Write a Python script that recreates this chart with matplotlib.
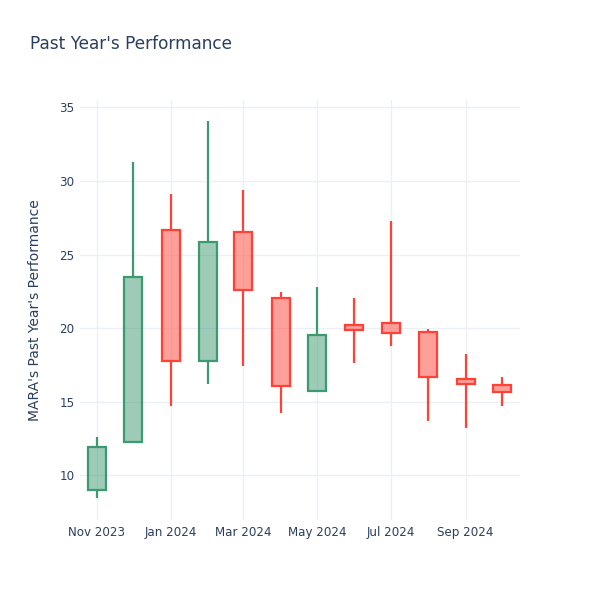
import datetime as dt
import matplotlib
matplotlib.use('Agg')
import matplotlib.pyplot as plt
import matplotlib.dates as mdates

# monthly candles for MARA
months = ['2023-11-01', '2023-12-01', '2024-01-01', '2024-02-01', '2024-03-01', '2024-04-01',
          '2024-05-01', '2024-06-01', '2024-07-01', '2024-08-01', '2024-09-01', '2024-10-01']
opens = [9.02, 12.24, 26.64, 17.79, 26.53, 22.02, 15.75, 20.21, 20.35, 19.76, 16.52, 16.13]
highs = [12.62, 31.26, 29.13, 34.05, 29.36, 22.45, 22.81, 22.02, 27.26, 19.96, 18.22, 16.70]
lows = [8.44, 12.24, 14.71, 16.18, 17.45, 14.21, 15.66, 17.61, 18.80, 13.69, 13.19, 14.71]
closes = [11.94, 23.45, 17.79, 25.87, 22.59, 16.07, 19.51, 19.87, 19.69, 16.70, 16.20, 15.66]

tick_dates = ['2023-11-01', '2024-01-01', '2024-03-01', '2024-05-01', '2024-07-01', '2024-09-01']

up_col = '#3D9970'
down_col = '#FF4136'
text_col = '#2a3f5f'
grid_col = '#EBF0F8'

plt.rcParams['font.family'] = 'DejaVu Sans'

fig = plt.figure(figsize=(6, 6), dpi=100)
ax = fig.add_axes([80/600, 80/600, 440/600, 420/600])

dates = [dt.datetime.strptime(m, '%Y-%m-%d') for m in months]
width = 15  # days

for d, o, h, l, c in zip(dates, opens, highs, lows, closes):
    col = up_col if c >= o else down_col
    lo, hi = min(o, c), max(o, c)
    ax.vlines(d, l, lo, color=col, lw=1.6, zorder=3)
    ax.vlines(d, hi, h, color=col, lw=1.6, zorder=3)
    ax.bar(d, hi - lo, bottom=lo, width=width, color=col, alpha=0.5, lw=0, zorder=3)
    ax.bar(d, hi - lo, bottom=lo, width=width, facecolor='none', edgecolor=col, lw=1.6, zorder=4)

ax.set_xlim(dt.datetime(2023, 10, 18), dt.datetime(2024, 10, 16))
ax.set_ylim(6.96, 35.5)
ax.set_yticks([10, 15, 20, 25, 30, 35])
ax.set_xticks([dt.datetime.strptime(t, '%Y-%m-%d') for t in tick_dates])
ax.xaxis.set_major_formatter(mdates.DateFormatter('%b %Y'))

ax.grid(True, color=grid_col, lw=1)
ax.set_axisbelow(True)
for s in ax.spines.values():
    s.set_visible(False)
ax.tick_params(length=0, labelsize=8.6, labelcolor=text_col, pad=4)

fig.text(35/600, 1 - 310/600, "MARA's Past Year's Performance", rotation=90,
         ha='center', va='center', fontsize=10, color=text_col)
fig.text(30/600, 1 - 44/600, "Past Year's Performance", ha='left', va='center',
         fontsize=12.2, color=text_col)

fig.savefig('out.png', dpi=100, facecolor='white')
